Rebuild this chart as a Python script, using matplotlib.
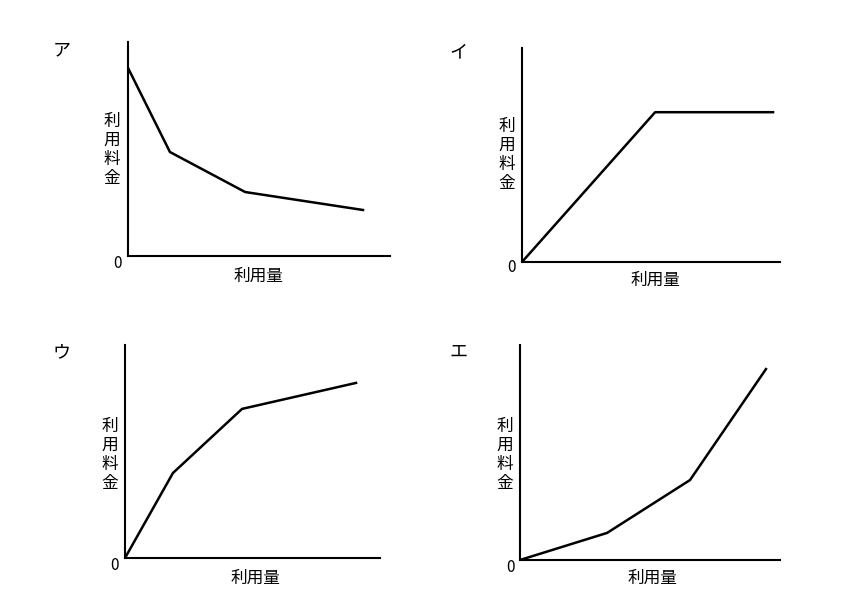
import matplotlib
matplotlib.use("Agg")
import matplotlib.pyplot as plt

plt.rcParams['font.family'] = ['Noto Sans CJK JP', 'DejaVu Sans']

labels = ["ア", "イ", "ウ", "エ"]
xs = [[0, 1.6, 4.47, 8.97], [0, 5.16, 9.73], [0, 1.88, 4.59, 9.06], [0, 3.35, 6.54, 9.46]]
ys = [[8.79, 4.86, 2.99, 2.15], [0, 7.0, 7.0], [0, 3.99, 7.0, 8.22], [0, 1.26, 3.72, 8.88]]
ylabel = "利\n用\n料\n金"
xlabel = "利用量"

W, H = 860, 605
fig = plt.figure(figsize=(8.6, 6.05), dpi=100)
# pixel boxes: left, top, right, bottom
boxes = [(128, 42, 390, 256), (522, 48, 780, 262), (125, 345, 380, 558), (520, 345, 780, 560)]
letter_pos = [(62, 50), (458, 52), (62, 352), (458, 352)]
ylab_pos = [(112, 150), (507, 155), (110, 455), (505, 455)]
zero_pos = [(118, 264), (512, 268), (115, 566), (510, 568)]
xlab_pos = [(258, 276), (655, 280), (255, 578), (652, 578)]

for i in range(4):
    l, t, r, b = boxes[i]
    ax = fig.add_axes([l / W, 1 - b / H, (r - l) / W, (b - t) / H])
    ax.plot(xs[i], ys[i], color='black', lw=1.8)
    ax.set_xlim(0, 10)
    ax.set_ylim(0, 10)
    for s in ['top', 'right']:
        ax.spines[s].set_visible(False)
    for s in ['left', 'bottom']:
        ax.spines[s].set_linewidth(1.5)
    ax.set_xticks([])
    ax.set_yticks([])
    fig.text(letter_pos[i][0] / W, 1 - letter_pos[i][1] / H, labels[i], fontsize=13, ha='center', va='center')
    fig.text(ylab_pos[i][0] / W, 1 - ylab_pos[i][1] / H, ylabel, fontsize=12, ha='center', va='center', linespacing=1.15)
    fig.text(zero_pos[i][0] / W, 1 - zero_pos[i][1] / H, "0", fontsize=11, ha='center', va='center')
    fig.text(xlab_pos[i][0] / W, 1 - xlab_pos[i][1] / H, xlabel, fontsize=12, ha='center', va='center')

fig.savefig("out.png", dpi=100, facecolor='white')
